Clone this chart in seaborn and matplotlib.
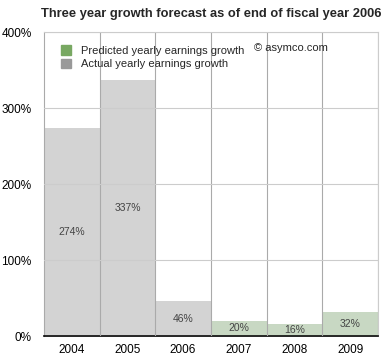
import numpy as np
import matplotlib
matplotlib.use("Agg")
import matplotlib.pyplot as plt
import matplotlib.patches as mpatches
import pandas as pd
import seaborn as sns

# chart data
years = ["2004", "2005", "2006", "2007", "2008", "2009"]
growth = [274, 337, 46, 20, 16, 32]
kind = ["Actual", "Actual", "Actual", "Predicted", "Predicted", "Predicted"]
y_ticks = [0, 100, 200, 300, 400]

df = pd.DataFrame({"Year": years, "Growth": growth, "Kind": kind})

sns.set_style("white")
plt.rcParams["font.family"] = ["Liberation Sans", "DejaVu Sans"]

fig = plt.figure(figsize=(3.86, 3.56), dpi=100)
ax = fig.add_axes([0.114, 0.056, 0.865, 0.854])

bar_colors = {"Actual": "#d3d3d3", "Predicted": "#c6dbbf"}
sns.barplot(data=df, x="Year", y="Growth", hue="Kind", dodge=False, width=1.0,
            palette=bar_colors, ax=ax, legend=False, zorder=1, linewidth=0)

for cont in ax.containers:
    ax.bar_label(cont, labels=[f"{v:.0f}%" for v in cont.datavalues],
                 label_type="center", fontsize=7.5, color="#444444")

ax.set_xlim(-0.5, len(years) - 0.5)
ax.set_ylim(0, 400)
ax.set_yticks(y_ticks)
ax.set_yticklabels([f"{v}%" for v in y_ticks])
ax.set_xticks(np.arange(len(years)) + 0.5, minor=True)
ax.tick_params(axis="both", which="both", length=0, labelsize=8.5, colors="black")
ax.tick_params(axis="y", pad=9)
ax.tick_params(axis="x", pad=6)
ax.set_xlabel("")
ax.set_ylabel("")

ax.grid(axis="y", which="major", color="#cccccc", linewidth=0.8, zorder=3)
ax.grid(axis="x", which="minor", color="#aaaaaa", linewidth=0.8, zorder=3)
ax.set_axisbelow(False)

for s in ["top", "right"]:
    ax.spines[s].set_color("#cccccc")
    ax.spines[s].set_linewidth(0.8)
ax.spines["left"].set_color("#aaaaaa")
ax.spines["left"].set_linewidth(0.8)
ax.spines["bottom"].set_color("black")
ax.spines["bottom"].set_linewidth(1.2)

handles = [mpatches.Patch(color="#78a862", label="Predicted yearly earnings growth"),
           mpatches.Patch(color="#999999", label="Actual yearly earnings growth")]
ax.legend(handles=handles, loc="upper left", bbox_to_anchor=(0.025, 0.985),
          frameon=False, fontsize=8, handlelength=0.9, handleheight=0.9,
          handletextpad=0.9, labelspacing=0.25, borderpad=0.3)
ax.text(0.63, 0.947, "© asymco.com", transform=ax.transAxes, fontsize=8,
        ha="left", va="center")

fig.text(0.547, 0.962, "Three year growth forecast as of end of fiscal year 2006",
         ha="center", va="center", fontsize=9.3, fontweight="bold")

fig.savefig("out.png", dpi=100)
